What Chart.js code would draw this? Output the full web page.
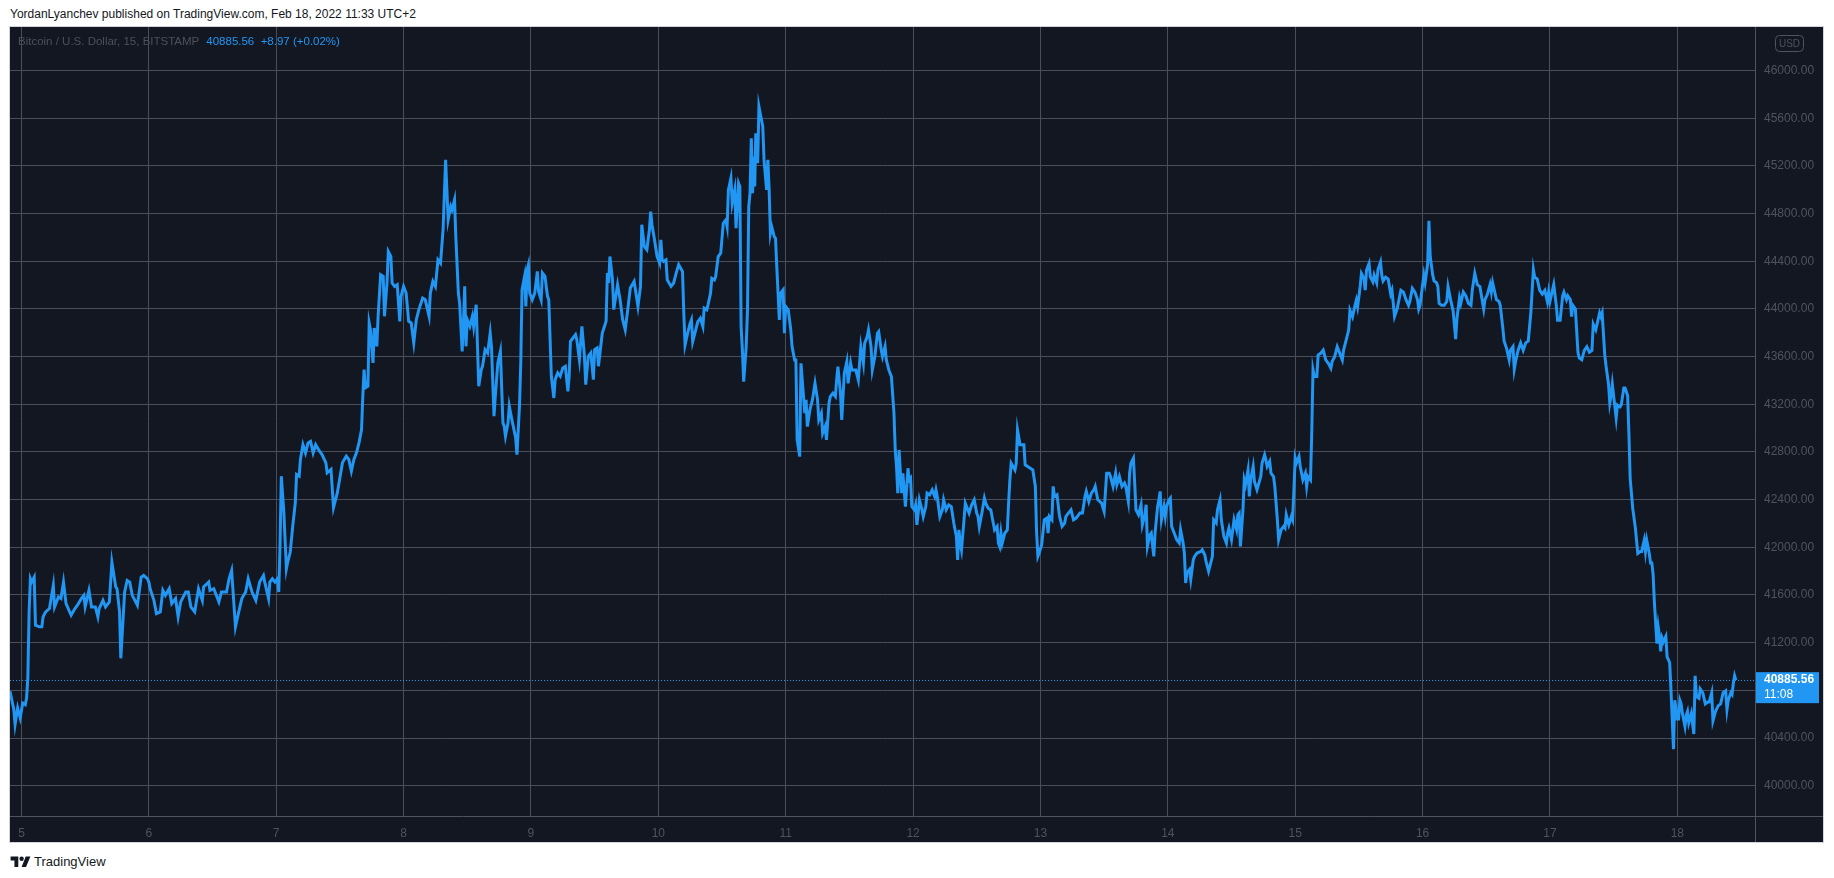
<!DOCTYPE html>
<html>
<head>
<meta charset="utf-8">
<title>BTCUSD 15m</title>
<script src="https://cdn.jsdelivr.net/npm/chart.js@4.4.1/dist/chart.umd.min.js"></script>
<style>
  html, body { margin: 0; padding: 0; background: #fff; }
  body { width: 1834px; height: 878px; position: relative; overflow: hidden; font-family: 'Liberation Sans', Arial, sans-serif; }
  #header { position: absolute; left: 10px; top: 7px; font-size: 12px; color: #131722; white-space: nowrap; }
  #panel { position: absolute; left: 10px; top: 27px; width: 1813px; height: 815px; background: #131722; outline: 1px solid #d1d4dc; }
  #legend { position: absolute; left: 8px; top: 8px; font-size: 11.5px; color: #4c505b; white-space: nowrap; }
  #legend .px { color: #2196f3; margin-left: 7px; }
  #logo { position: absolute; left: 10px; top: 853px; height: 16px; display: flex; align-items: center; font-size: 13px; color: #131722; }
  #logo svg { margin-right: 3px; }
</style>
</head>
<body>
<div id="header">YordanLyanchev published on TradingView.com, Feb 18, 2022 11:33 UTC+2</div>
<div id="panel">
  <canvas id="chartBtc"></canvas>
  <div id="legend">Bitcoin / U.S. Dollar, 15, BITSTAMP<span class="px">40885.56&nbsp;&nbsp;+8.97 (+0.02%)</span></div>
</div>
<div id="logo">
  <svg width="21" height="11" viewBox="0 0 36 20"><path d="M14 20H7V8H0V1h14z" fill="#131722"/><circle cx="20" cy="5" r="4" fill="#131722"/><path d="M28 20h-8L27.5 1H36z" fill="#131722"/></svg>
  TradingView
</div>
<script>
// Bitcoin / U.S. Dollar, 15 min, BITSTAMP — Feb 2022 (x = day of February)

const COLORS = {
    bg:    '#131722',
    line:  '#2196f3',
    grid:  '#4a4e5a',
    axis:  '#50535e',
    text:  '#50535e',
};
const FONT = "'Liberation Sans', Arial, sans-serif";

const xTicks = [5, 6, 7, 8, 9, 10, 11, 12, 13, 14, 15, 16, 17, 18];
const yTicks = [40000, 40400, 40800, 41200, 41600, 42000, 42400, 42800, 43200, 43600, 44000, 44400, 44800, 45200, 45600, 46000];

const lastPrice = 40885.56;
const lastTime = '11:08';

const dayOfFeb = [
    4.91, 4.94, 4.95, 4.97, 4.99, 5.01, 5.03, 5.04, 5.05, 5.06, 5.07, 5.08, 5.10, 5.11, 5.14, 5.16, 5.17, 5.19, 5.22, 5.25,
    5.26, 5.29, 5.31, 5.33, 5.35, 5.39, 5.42, 5.44, 5.47, 5.49, 5.50, 5.53, 5.55, 5.58, 5.60, 5.61, 5.64, 5.66, 5.69, 5.71,
    5.74, 5.75, 5.77, 5.78, 5.81, 5.83, 5.85, 5.87, 5.91, 5.94, 5.96, 5.99, 6.00, 6.01, 6.04, 6.06, 6.09, 6.11, 6.13, 6.16,
    6.18, 6.21, 6.23, 6.25, 6.29, 6.31, 6.33, 6.36, 6.39, 6.42, 6.43, 6.47, 6.48, 6.51, 6.55, 6.57, 6.61, 6.63, 6.65, 6.68,
    6.70, 6.73, 6.76, 6.78, 6.81, 6.84, 6.87, 6.90, 6.91, 6.94, 6.95, 6.97, 6.99, 7.01, 7.02, 7.03, 7.04, 7.06, 7.08, 7.09,
    7.11, 7.13, 7.15, 7.16, 7.18, 7.19, 7.21, 7.23, 7.25, 7.27, 7.29, 7.31, 7.34, 7.36, 7.39, 7.40, 7.43, 7.45, 7.48,
    7.52, 7.55, 7.57, 7.59, 7.61, 7.63, 7.65, 7.67, 7.68, 7.69, 7.70, 7.72, 7.73, 7.74, 7.76, 7.77, 7.79, 7.80, 7.82, 7.84,
    7.85, 7.87, 7.88, 7.90, 7.91, 7.93, 7.95, 7.97, 7.98, 8.00, 8.02, 8.04, 8.06, 8.08, 8.10, 8.12, 8.15, 8.17, 8.20, 8.21,
    8.23, 8.25, 8.27, 8.29, 8.31, 8.33, 8.34, 8.35, 8.37, 8.38, 8.40, 8.41, 8.43, 8.44, 8.46, 8.47, 8.48, 8.49, 8.50, 8.52,
    8.54, 8.55, 8.57, 8.59, 8.61, 8.62, 8.64, 8.66, 8.68, 8.69, 8.71, 8.72, 8.74, 8.76, 8.78, 8.79, 8.80, 8.82, 8.83, 8.85,
    8.88, 8.89, 8.91, 8.92, 8.93, 8.95, 8.96, 8.97, 8.98, 8.99, 9.01, 9.03, 9.05, 9.06, 9.08, 9.09, 9.11, 9.13, 9.14, 9.16,
    9.18, 9.19, 9.21, 9.23, 9.25, 9.27, 9.29, 9.30, 9.31, 9.33, 9.35, 9.36, 9.38, 9.40, 9.42, 9.43, 9.45, 9.47, 9.49, 9.50,
    9.52, 9.53, 9.56, 9.59, 9.60, 9.61, 9.62, 9.64, 9.65, 9.68, 9.70, 9.72, 9.74, 9.76, 9.78, 9.81, 9.84, 9.86, 9.87, 9.89,
    9.91, 9.93, 9.94, 9.95, 9.97, 9.99, 10.01, 10.02, 10.03, 10.04, 10.06, 10.07, 10.10, 10.12, 10.14, 10.16,
    10.19, 10.20, 10.21, 10.23, 10.25, 10.26, 10.27, 10.30, 10.31, 10.33, 10.35, 10.36, 10.38, 10.39, 10.41, 10.42, 10.44, 10.45, 10.47, 10.49,
    10.51, 10.53, 10.54, 10.55, 10.57, 10.58, 10.60, 10.61, 10.63, 10.64, 10.65, 10.66, 10.67, 10.69, 10.70, 10.71, 10.72, 10.73, 10.74, 10.75,
    10.757, 10.765, 10.78, 10.79, 10.80, 10.82, 10.83, 10.85, 10.86, 10.87, 10.88, 10.89, 10.91, 10.92, 10.93, 10.95, 10.96, 10.98, 10.99, 11.00,
    11.02, 11.04, 11.05, 11.07, 11.08, 11.09, 11.11, 11.12, 11.13, 11.15, 11.16, 11.17, 11.19, 11.21, 11.23, 11.25, 11.26, 11.28, 11.29, 11.31,
    11.32, 11.34, 11.35, 11.37, 11.39, 11.40, 11.41, 11.43, 11.44, 11.46, 11.48, 11.49, 11.51, 11.52, 11.55, 11.57, 11.59, 11.61, 11.62, 11.64,
    11.65, 11.67, 11.68, 11.70, 11.72, 11.73, 11.75, 11.76, 11.78, 11.79, 11.81, 11.83, 11.85, 11.86, 11.87, 11.88, 11.89, 11.91, 11.92, 11.93,
    11.94, 11.96, 11.97, 11.98, 11.99, 12.01, 12.02, 12.03, 12.04, 12.05, 12.07, 12.08, 12.10, 12.11, 12.13, 12.15, 12.17, 12.18, 12.19, 12.21,
    12.23, 12.24, 12.26, 12.28, 12.30, 12.32, 12.34, 12.35, 12.36, 12.37, 12.38, 12.40, 12.41, 12.43, 12.44, 12.46, 12.48, 12.50, 12.51, 12.52,
    12.54, 12.56, 12.57, 12.59, 12.61, 12.63, 12.64, 12.66, 12.67, 12.68, 12.69, 12.70, 12.72, 12.74, 12.75, 12.76, 12.77, 12.80, 12.81,
    12.82, 12.84, 12.87, 12.88, 12.92, 12.94, 12.96, 12.97, 12.98, 12.99, 13.01, 13.03, 13.05, 13.06, 13.07, 13.09, 13.10, 13.11, 13.13, 13.15,
    13.17, 13.19, 13.20, 13.22, 13.24, 13.26, 13.28, 13.31, 13.33, 13.35, 13.36, 13.38, 13.40, 13.42, 13.43, 13.45, 13.48, 13.50, 13.52, 13.54,
    13.55, 13.57, 13.59, 13.60, 13.62, 13.64, 13.66, 13.67, 13.69, 13.70, 13.71, 13.73, 13.74, 13.75, 13.77, 13.79, 13.80, 13.82, 13.83, 13.84,
    13.86, 13.87, 13.89, 13.90, 13.92, 13.93, 13.94, 13.95, 13.97, 13.98, 13.99, 14.01, 14.02, 14.03, 14.05, 14.07, 14.09, 14.10, 14.12, 14.13,
    14.14, 14.15, 14.17, 14.18, 14.20, 14.21, 14.23, 14.26, 14.27, 14.29, 14.30, 14.32, 14.34, 14.35, 14.36, 14.38, 14.39, 14.41, 14.42, 14.44,
    14.46, 14.47, 14.48, 14.50, 14.51, 14.52, 14.54, 14.55, 14.56, 14.57, 14.59, 14.60, 14.61, 14.63, 14.64, 14.65, 14.67, 14.68, 14.70, 14.73,
    14.74, 14.76, 14.77, 14.78, 14.80, 14.81, 14.83, 14.84, 14.86, 14.87, 14.89, 14.91, 14.92, 14.93, 14.95, 14.97, 14.98, 14.99, 15.00, 15.01,
    15.03, 15.04, 15.06, 15.08, 15.09, 15.10, 15.12, 15.13, 15.14, 15.15, 15.17, 15.18, 15.20, 15.22, 15.24, 15.26, 15.28, 15.29, 15.31, 15.32,
    15.33, 15.35, 15.37, 15.38, 15.40, 15.42, 15.43, 15.44, 15.45, 15.47, 15.48, 15.49, 15.51, 15.52, 15.54, 15.55, 15.56, 15.58, 15.59, 15.61, 15.62,
    15.64, 15.65, 15.67, 15.68, 15.69, 15.71, 15.73, 15.75, 15.76, 15.78, 15.79, 15.80, 15.83, 15.85, 15.87, 15.89, 15.90, 15.92, 15.94, 15.96,
    15.97, 15.98, 16.01, 16.02, 16.04, 16.05, 16.06, 16.08, 16.09, 16.11, 16.12, 16.13, 16.15, 16.17, 16.19, 16.20, 16.22, 16.24, 16.26, 16.27,
    16.29, 16.30, 16.32, 16.34, 16.36, 16.38, 16.39, 16.41, 16.43, 16.45, 16.47, 16.48, 16.49, 16.51, 16.53, 16.54, 16.55, 16.57, 16.58, 16.60,
    16.61, 16.63, 16.64, 16.66, 16.68, 16.69, 16.71, 16.72, 16.73, 16.75, 16.77, 16.79, 16.81, 16.83, 16.85, 16.87, 16.88, 16.90, 16.92, 16.94,
    16.96, 16.98, 16.99, 17.00, 17.01, 17.03, 17.05, 17.06, 17.08, 17.10, 17.11, 17.13, 17.14, 17.16, 17.17, 17.18, 17.20, 17.22, 17.23, 17.25,
    17.27, 17.29, 17.31, 17.33, 17.34, 17.36, 17.37, 17.39, 17.40, 17.41, 17.43, 17.44, 17.46, 17.47, 17.48, 17.49, 17.51, 17.52, 17.53, 17.55,
    17.56, 17.58, 17.59, 17.61, 17.62, 17.63, 17.65, 17.66, 17.67, 17.68, 17.69, 17.71, 17.72, 17.74, 17.75, 17.76, 17.78, 17.79, 17.80, 17.81,
    17.82, 17.84, 17.85, 17.86, 17.87, 17.88, 17.89, 17.91, 17.92, 17.94, 17.95, 17.96, 17.97, 17.98, 18.00, 18.01, 18.02, 18.03, 18.04, 18.06,
    18.07, 18.08, 18.09, 18.11, 18.13, 18.14, 18.15, 18.17, 18.18, 18.20, 18.22, 18.24, 18.25, 18.27, 18.28, 18.30, 18.32, 18.34, 18.36, 18.38,
    18.39, 18.40, 18.42, 18.43, 18.44, 18.45, 18.46,
];

const priceUsd = [
    40792, 40639, 40514, 40653, 40570, 40694, 40680, 40736, 40903, 41458, 41736, 41708, 41750, 41347, 41333, 41333, 41417, 41458, 41486, 41680,
    41500, 41583, 41570, 41708, 41528, 41430, 41486, 41514, 41570, 41597, 41500, 41639, 41500, 41500, 41417, 41486, 41555, 41500, 41542, 41875,
    41667, 41653, 41458, 41069, 41625, 41722, 41708, 41597, 41514, 41750, 41764, 41736, 41708, 41653, 41555, 41444, 41458, 41639, 41597, 41653,
    41528, 41570, 41417, 41542, 41625, 41625, 41500, 41458, 41653, 41555, 41667, 41708, 41639, 41653, 41542, 41625, 41625, 41736, 41806, 41333,
    41430, 41570, 41625, 41736, 41625, 41555, 41708, 41764, 41708, 41570, 41708, 41736, 41708, 41736, 41625, 42014, 42597, 42292, 41820, 41875,
    41958, 42180, 42375, 42611, 42597, 42736, 42861, 42792, 42875, 42889, 42792, 42861, 42806, 42778, 42708, 42625, 42653, 42333, 42458,
    42709, 42765, 42737, 42639, 42737, 42792, 42876, 42988, 43267, 43491, 43337, 43351, 43882, 43826, 43547, 43840, 43686, 43938, 44287, 44273,
    43938, 44217, 44482, 44440, 44217, 44189, 44203, 43896, 44105, 44189, 44133, 43896, 43882, 43714, 43910, 43994, 44091, 44077, 43938, 44133,
    44231, 44189, 44412, 44384, 44664, 45250, 44999, 44748, 44859, 44831, 44915, 44608, 44133, 44049, 43644, 43882, 44189, 43686, 43910, 43854,
    43938, 43854, 44035, 43351, 43491, 43519, 43658, 43630, 43798, 43686, 43100, 43267, 43547, 43644, 43044, 43016, 42932, 43044, 43184, 43072,
    42918, 42778, 43184, 43547, 44161, 44273, 44021, 44329, 44371, 44133, 44077, 44133, 44315, 44147, 44077, 44301, 44273, 44105, 44077, 43435,
    43253, 43407, 43463, 43435, 43505, 43519, 43309, 43435, 43728, 43756, 43784, 43742, 43575, 43854, 43602, 43365, 43602, 43630, 43407, 43658,
    43672, 43519, 43798, 43896, 44301, 44217, 44440, 44245, 43994, 44203, 44077, 43910, 43826, 43994, 44175, 44231, 44021, 44189, 44706, 44524,
    44496, 44664, 44817, 44706, 44580, 44440, 44384, 44580, 44412, 44398, 44412, 44245, 44189, 44217, 44301, 44371,
    44313, 43964, 43698, 43796, 43880, 43908, 43726, 43852, 43894, 43922, 43852, 44006, 43992, 44034, 44132, 44257, 44243, 44271, 44439, 44467,
    44719, 44747, 44691, 44999, 45097, 44887, 44999, 44677, 45055, 45027, 43852, 43656, 43390, 43684, 43992, 44859, 44971, 45432, 44971, 45278,
    45027, 45474, 45222, 45698, 45642, 45530, 45250, 44999, 45250, 44999, 44635, 44691, 44607, 44593, 44355, 43908, 44132, 44160, 43796, 44020,
    43992, 43824, 43684, 43572, 43572, 42901, 42761, 43544, 43404, 43125, 43237, 43013, 43153, 43237, 43376, 43237, 43069, 43125, 42957, 43013,
    42901, 43209, 43265, 43293, 43265, 43404, 43516, 43293, 43069, 43460, 43558, 43376, 43544, 43488, 43488, 43404, 43684, 43544, 43712, 43768,
    43824, 43684, 43488, 43600, 43796, 43810, 43656, 43600, 43684, 43572, 43488, 43432, 43125, 42817, 42677, 42454, 42817, 42454, 42621, 42481,
    42342, 42663, 42565, 42579, 42342, 42314, 42356, 42188, 42286, 42398, 42314, 42258, 42342, 42454, 42440, 42481, 42426, 42481, 42426, 42258,
    42314, 42398, 42314, 42356, 42342, 42202, 42090, 41894, 42146, 42034, 41978, 42230, 42370, 42314, 42286, 42356, 42398, 42286, 42258, 42174,
    42286, 42412, 42370, 42328, 42314, 42202, 42146, 42174, 42034, 42006, 42118, 42034, 42118, 42146, 42370, 42565, 42705, 42649, 42705,
    42985, 42860, 42860, 42692, 42664, 42650, 42511, 42120, 41924, 41952, 42022, 42231, 42245, 42120, 42259, 42231, 42511, 42427, 42441, 42259,
    42176, 42204, 42259, 42287, 42315, 42231, 42245, 42287, 42287, 42427, 42469, 42385, 42455, 42483, 42511, 42399, 42371, 42301, 42622, 42622,
    42594, 42511, 42622, 42525, 42594, 42511, 42539, 42511, 42385, 42622, 42706, 42748, 42539, 42315, 42273, 42357, 42189, 42273, 42357, 42008,
    42106, 42120, 41924, 42120, 42343, 42399, 42469, 42231, 42343, 42259, 42343, 42399, 42413, 42176, 42120, 42064, 42036, 42148, 42036, 41952,
    41701, 41785, 41813, 41729, 41896, 41924, 41952, 41966, 41980, 41938, 41882, 41799, 41882, 41924, 42231, 42204, 42315, 42399, 42231, 42092,
    42036, 42120, 42162, 42064, 42148, 42231, 42148, 42273, 42287, 42008, 42315, 42566, 42525, 42650, 42427, 42566, 42678, 42553, 42483, 42594,
    42706, 42776, 42734, 42678, 42720, 42622, 42594, 42511, 42231, 42064, 42148, 42176, 42162, 42273, 42189, 42259, 42231, 42483, 42748, 42706,
    42762, 42678, 42566, 42622, 42511, 42594, 42566, 42957, 43488, 43432, 43432, 43613, 43627, 43655, 43572, 43544, 43502, 43558, 43599, 43641,
    43683, 43627, 43572, 43655, 43739, 43823, 43990, 43962, 43934, 44032, 44074, 44018, 44186, 44297, 44255, 44158, 44325, 44381, 44269, 44227, 44283,
    44219, 44330, 44393, 44283, 44235, 44267, 44251, 44125, 44156, 43936, 43967, 43999, 44156, 44141, 44078, 44030, 44062, 44172, 44141, 44078,
    43999, 44030, 44283, 44220, 44377, 44740, 44440, 44283, 44235, 44220, 44188, 44046, 44030, 44030, 44062, 44188, 44078, 43983, 43746, 43920,
    44093, 44046, 44141, 44109, 44046, 44030, 44156, 44298, 44204, 44188, 44062, 43999, 44078, 44125, 44204, 44141, 44220, 44125, 44078, 44062,
    44030, 43841, 43731, 43667, 43573, 43652, 43683, 43494, 43557, 43652, 43715, 43652, 43715, 43731, 43967, 44330, 44267, 44251, 44156, 44125,
    44156, 44062, 44141, 44062, 44109, 44204, 44030, 43904, 43904, 44109, 44141, 44078, 44109, 44078, 43936, 44030, 43999, 43636, 43589, 43573,
    43652, 43683, 43636, 43652, 43873, 43825, 43873, 43967, 43936, 43967, 43620, 43525, 43368, 43210, 43273, 43368, 43178, 43084, 43194, 43178,
    43194, 43336, 43336, 43273, 42957, 42579, 42327, 42248, 42169, 42059, 41948, 41964, 41964, 42059, 41964, 42059, 41948, 41869, 41869, 41774,
    41538, 41191, 41333, 41254, 41128, 41238, 41207, 41254, 41080, 41033, 40812, 40560, 40307, 40717, 40560, 40560, 40717, 40686, 40607, 40497,
    40591, 40623, 40528, 40607, 40434, 40922, 40749, 40733, 40812, 40780, 40686, 40702, 40702, 40780, 40544, 40623, 40670, 40686, 40780, 40796,
    40639, 40717, 40780, 40765, 40859, 40922, 40886,
];

const X_MIN = 4.91;
const X_MAX = 18.61;
const Y_MIN = 39746;
const Y_MAX = 46365;

// kill the label overhang padding so the plot fills the pane edge to edge
function noPad(s) {
    s.paddingTop = 0;
    s.paddingBottom = 0;
    s.paddingLeft = 0;
    s.paddingRight = 0;
}

// extra TradingView bits: pane separators, last price line + label, USD badge
const tvOverlay = {
    id: 'tvOverlay',
    beforeDatasetsDraw(chart) {
        const { ctx, chartArea: a, scales: { y } } = chart;
        const py = Math.round(y.getPixelForValue(lastPrice)) + 0.5;
        ctx.save();
        ctx.strokeStyle = COLORS.line;
        ctx.lineWidth = 1;
        ctx.setLineDash([1, 2]);
        ctx.beginPath();
        ctx.moveTo(a.left, py);
        ctx.lineTo(a.right, py);
        ctx.stroke();
        ctx.restore();
    },
    afterDraw(chart) {
        const { ctx, chartArea: a, scales: { y } } = chart;
        ctx.save();
        ctx.strokeStyle = COLORS.axis;
        ctx.lineWidth = 1;
        ctx.beginPath();
        ctx.moveTo(a.right + 0.5, 0);
        ctx.lineTo(a.right + 0.5, chart.height);
        ctx.moveTo(0, a.bottom + 0.5);
        ctx.lineTo(chart.width, a.bottom + 0.5);
        ctx.stroke();

        // last price label
        const py = y.getPixelForValue(lastPrice);
        ctx.fillStyle = COLORS.line;
        ctx.fillRect(a.right + 1, py - 8, 63, 31);
        ctx.fillStyle = '#ffffff';
        ctx.font = 'bold 12px ' + FONT;
        ctx.textAlign = 'left';
        ctx.textBaseline = 'middle';
        ctx.fillText(lastPrice.toFixed(2), a.right + 9, py);
        ctx.font = '12px ' + FONT;
        ctx.fillText(lastTime, a.right + 9, py + 15);

        // USD badge
        const bx = a.right + 20.5, by = 8.5, bw = 28, bh = 16;
        ctx.strokeStyle = COLORS.axis;
        ctx.beginPath();
        ctx.roundRect(bx, by, bw, bh, 4);
        ctx.stroke();
        ctx.fillStyle = COLORS.text;
        ctx.font = '10px ' + FONT;
        ctx.textAlign = 'center';
        ctx.fillText('USD', bx + bw / 2, by + bh / 2 + 0.5);
        ctx.restore();
    },
};

new Chart(document.getElementById('chartBtc'), {
    type: 'line',
    data: {
        datasets: [{
            label: 'BTCUSD',
            data: dayOfFeb.map((d, i) => ({ x: d, y: priceUsd[i] })),
            borderColor: COLORS.line,
            borderWidth: 3,
            pointRadius: 0,
            tension: 0,
            fill: false,
        }],
    },
    options: {
        responsive: true,
        maintainAspectRatio: false,
        animation: false,
        layout: { padding: 0 },
        plugins: {
            legend: { display: false },
            tooltip: { enabled: false },
        },
        scales: {
            x: {
                type: 'linear',
                min: X_MIN,
                max: X_MAX,
                afterBuildTicks: s => { s.ticks = xTicks.map(v => ({ value: v })); },
                afterFit: s => { s.height = 26; noPad(s); },
                grid: { color: COLORS.grid, drawTicks: false },
                border: { display: false },
                ticks: {
                    color: COLORS.text,
                    font: { family: FONT, size: 12 },
                    padding: 10,
                    maxRotation: 0,
                    autoSkip: false,
                    callback: v => String(v),
                },
            },
            y: {
                position: 'right',
                min: Y_MIN,
                max: Y_MAX,
                afterBuildTicks: s => { s.ticks = yTicks.map(v => ({ value: v })); },
                afterFit: s => { s.width = 68; noPad(s); },
                grid: { color: COLORS.grid, drawTicks: false },
                border: { display: false },
                ticks: {
                    color: COLORS.text,
                    font: { family: FONT, size: 12 },
                    padding: 9,
                    callback: v => v.toFixed(2),
                },
            },
        },
    },
    plugins: [tvOverlay],
});
</script>
</body>
</html>
